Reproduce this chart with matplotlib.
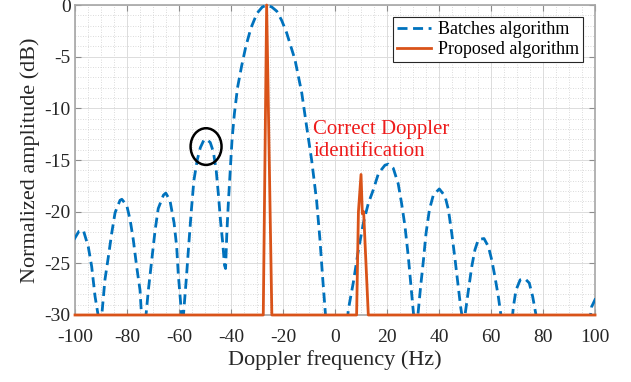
import numpy as np
import matplotlib
matplotlib.use("Agg")
import matplotlib.pyplot as plt
from matplotlib.patches import Ellipse
from matplotlib.ticker import MultipleLocator

plt.rcParams['font.family'] = ['Liberation Serif', 'DejaVu Serif']

# batches algorithm (dB)
batch_f = [-100.4, -98.5, -96.8, -94.9, -93.6, -92.3, -91.0, -90.3,
           -89.7, -88.5, -87.2, -85.9, -84.6, -82.7, -82.0, -80.1, -78.8, -77.6, -76.3, -75.0, -74.4, -73.5,
           -72.7, -71.8, -70.5, -69.2, -68.0, -66.0, -65.1, -63.5, -61.9, -60.9, -60.3, -59.6, -59.0, -58.6,
           -58.3, -57.2, -56.2, -55.3, -54.3, -53.0, -51.8, -50.5, -49.4, -48.0, -46.8, -45.7, -44.8, -44.0, -43.2, -42.5,
           -42.1, -41.6, -41.0, -40.3, -39.6, -38.7, -37.5, -36.0, -34.3, -32.3, -30.0, -28.0, -26.2,
           -24.3, -22.4, -20.5, -18.6, -15.4, -12.8, -10.9, -9.0, -7.1, -5.8, -4.7, -3.8, -3.2,
           0.7,
           4.6, 5.1, 7.0, 9.0, 10.9, 12.8, 14.7, 16.7, 19.2, 20.5, 22.4, 24.3, 25.6, 26.9, 28.2, 29.1, 30.3,
           31.0,
           31.8, 32.9, 34.0, 35.0, 36.3, 37.8, 40.1, 42.3, 43.6, 44.9, 46.2, 47.4, 48.3, 48.9,
           49.4,
           50.0, 51.3, 52.6, 53.8, 55.1, 57.3, 59.0, 60.3, 61.5, 62.8, 63.9,
           66.0,
           68.2, 68.6, 69.6, 71.2, 73.1, 74.7, 76.0, 77.3, 77.8,
           88.0,
           98.0, 98.7, 100.6]
batch_db = [-22.7, -21.9, -21.8, -23.4, -25.3, -28.2, -30.2, -34.0,
            -30.0, -26.6, -24.4, -22.1, -20.1, -18.9, -18.8, -19.4, -20.8, -22.7, -25.3, -27.6, -30.1, -34.0,
            -30.0, -27.6, -24.7, -21.8, -19.7, -18.4, -18.2, -18.9, -21.1, -23.4, -26.0, -28.2, -30.0, -31.5,
            -30.0, -26.5, -23.0, -20.0, -17.0, -15.0, -13.8, -13.1, -13.0, -13.3, -14.2, -16.0, -18.5, -21.0, -23.0, -25.2,
            -25.5, -22.0, -19.0, -16.0, -13.0, -10.5, -8.0, -6.0, -4.0, -2.2, -0.8, -0.2, 0.0,
            -0.2, -0.6, -1.5, -2.7, -5.3, -8.5, -11.8, -15.0, -18.9, -22.7, -26.6, -29.5, -31.5,
            -40.0,
            -31.0, -29.5, -26.9, -23.7, -21.1, -19.2, -17.9, -16.3, -15.5, -15.4, -15.8, -17.3, -19.2, -21.4, -24.4, -26.9, -30.2,
            -34.0,
            -30.2, -27.3, -24.7, -22.1, -19.8, -18.4, -17.8, -18.5, -19.8, -22.1, -24.7, -27.3, -29.2, -30.2,
            -34.0,
            -30.0, -27.6, -25.3, -23.7, -22.7, -22.6, -23.4, -24.7, -26.3, -28.2, -30.2,
            -36.0,
            -30.2, -29.2, -27.6, -26.6, -26.5, -26.9, -28.2, -30.0, -30.6,
            -40.0,
            -30.5, -29.2, -28.2]

# proposed algorithm (dB)
prop_f = [-100.0, -27.6, -26.3, -24.3, 8.3, 9.0, 10.0, 10.5, 11.0, 12.8, 100.0]
prop_db = [-30.0, -30.0, 0.0, -30.0, -30.0, -20.0, -16.4, -20.2, -20.0, -30.0, -30.0]

xticks = [-100, -80, -60, -40, -20, 0, 20, 40, 60, 80, 100]
yticks = [0, -5, -10, -15, -20, -25, -30]

circle_xy = (-49.6, -13.7)
note_xy = (-8.3, -11.1)

blue = '#0072BD'
red = '#D95319'
axcol = '#262626'

fig = plt.figure(figsize=(6.31, 3.82), dpi=100)
ax = fig.add_axes([0.1189, 0.1754, 0.8241, 0.8115])

ax.plot(batch_f, batch_db, color=blue, lw=2.0, linestyle=(0, (3.6, 2.0)),
        label='Batches algorithm', zorder=4)
ax.plot(prop_f, prop_db, color=red, lw=2.0, label='Proposed algorithm', zorder=5,
        solid_joinstyle='round', clip_on=False)

ax.add_patch(Ellipse(circle_xy, 11.9, 3.55, fill=False, edgecolor='black', lw=1.8, zorder=6))
ax.text(note_xy[0], note_xy[1], 'Correct Doppler\nidentification', color='#ee1c1c',
        fontsize=15, va='top', ha='left', linespacing=1.2, zorder=7)

ax.set_xlim(-100, 100)
ax.set_ylim(-30, 0)
ax.set_xticks(xticks)
ax.set_yticks(yticks)
ax.set_xticklabels([str(t) for t in xticks])
ax.set_yticklabels([str(t) for t in yticks])
ax.xaxis.set_minor_locator(MultipleLocator(5))
ax.yaxis.set_minor_locator(MultipleLocator(1))

ax.grid(which='major', color='#dcdcdc', lw=0.7, linestyle='-')
ax.grid(which='minor', color='#cfcfcf', lw=0.6, linestyle=(0, (1, 2)))
ax.set_axisbelow(True)

ax.tick_params(which='major', direction='in', length=4, width=0.8, color='#8c8c8c',
               top=True, right=True, labelsize=14, labelcolor=axcol)
ax.tick_params(axis='x', which='major', pad=10)
ax.tick_params(axis='y', which='major', pad=3)
ax.tick_params(which='minor', length=0, top=True, right=True)
for s in ax.spines.values():
    s.set_color('#a6a6a6')
    s.set_linewidth(1.2)

ax.set_xlabel('Doppler frequency (Hz)', fontsize=16, color=axcol, labelpad=3)
ax.set_ylabel('Normalized amplitude (dB)', fontsize=16, color=axcol, labelpad=3)

leg = ax.legend(loc='upper right', fontsize=13, frameon=True, fancybox=False,
                framealpha=1, edgecolor=axcol, borderaxespad=0.65, handlelength=1.9,
                handletextpad=0.35, labelspacing=0.15, borderpad=0.25)
leg.get_frame().set_linewidth(0.8)

fig.savefig('out.png', dpi=100)
